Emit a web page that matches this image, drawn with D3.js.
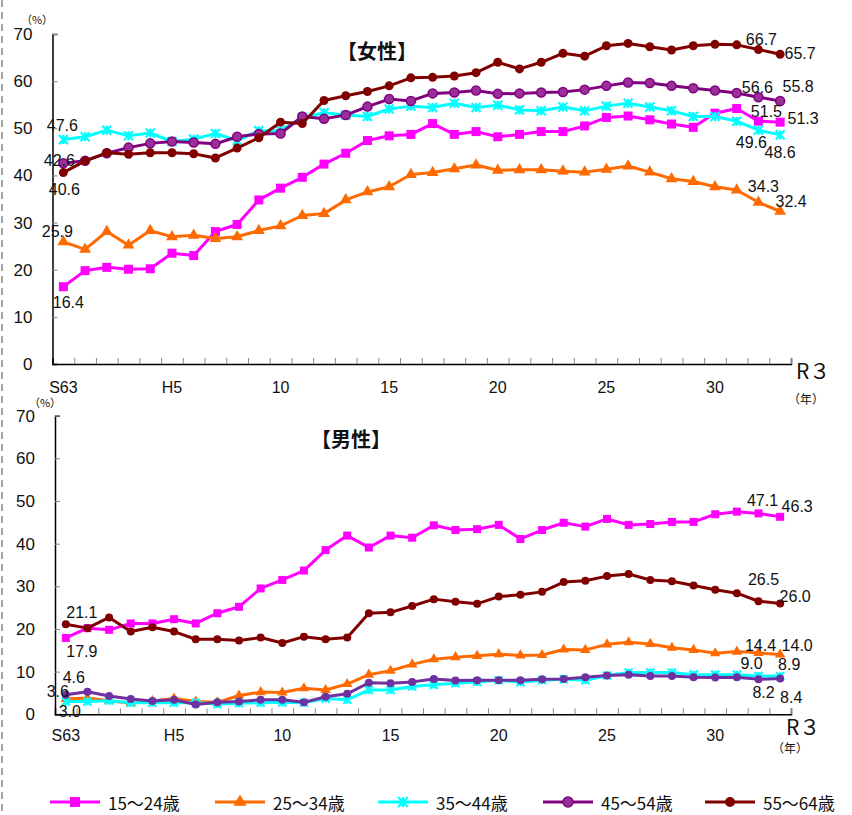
<!DOCTYPE html>
<html><head><meta charset="utf-8">
<script src="https://cdn.jsdelivr.net/npm/d3@7"></script>
<style>
html,body{margin:0;padding:0;background:#fff;}
svg{display:block;}
text{font-family:"Liberation Sans",Arial,sans-serif;fill:#111;}
.jp{font-family:"Noto Sans CJK JP","Noto Sans",sans-serif;}
</style></head>
<body>
<svg id="c" width="852" height="815"></svg>
<script>
// ---------------- data ----------------
const years = d3.range(34); // S63(1988) ... R3(2021)
const xTickIdx = [0, 5, 10, 15, 20, 25, 30];
const xTickLabels = ["S63", "H5", "10", "15", "20", "25", "30"];
const yTicks = [0, 10, 20, 30, 40, 50, 60, 70];
const seriesNames = ["15～24歳", "25～34歳", "35～44歳", "45～54歳", "55～64歳"];

const female15_24 = [16.4,19.8,20.5,20.1,20.2,23.5,23.0,28.1,29.6,34.8,37.3,39.6,42.4,44.7,47.4,48.4,48.7,51.0,48.7,49.3,48.2,48.7,49.3,49.3,50.5,52.3,52.6,51.8,50.9,50.2,53.2,54.2,51.5,51.3];
const female25_34 = [25.9,24.3,28.1,25.2,28.3,27.0,27.3,26.6,27.0,28.3,29.3,31.5,31.9,34.8,36.5,37.6,40.2,40.6,41.4,42.2,41.1,41.2,41.2,40.9,40.7,41.3,42.0,40.7,39.3,38.7,37.6,36.9,34.3,32.4];
const female35_44 = [47.6,48.2,49.6,48.4,49.0,47.2,47.7,48.9,47.4,49.5,49.5,52.3,53.3,52.8,52.5,54.1,54.7,54.4,55.3,54.4,54.9,53.9,53.7,54.5,53.7,54.7,55.3,54.5,53.7,52.5,52.5,51.5,49.6,48.6];
const female45_54 = [42.6,43.1,44.7,45.9,46.8,47.2,47.0,46.7,48.2,48.8,48.9,52.5,52.0,52.8,54.6,56.2,55.8,57.4,57.6,58.0,57.3,57.4,57.6,57.7,58.2,59.0,59.7,59.6,59.0,58.5,58.0,57.5,56.6,55.8];
const female55_64 = [40.6,43.1,44.8,44.5,44.8,44.8,44.6,43.7,45.8,48.0,51.3,51.0,55.9,56.9,57.8,59.0,60.7,60.8,61.1,61.8,64.0,62.6,64.0,65.9,65.3,67.5,68.0,67.3,66.6,67.5,67.8,67.7,66.7,65.7];

const male15_24 = [17.9,20.2,19.8,21.3,21.3,22.3,21.3,23.7,25.2,29.5,31.5,33.7,38.5,41.9,39.1,41.9,41.4,44.3,43.2,43.4,44.4,41.1,43.2,44.9,44.0,45.8,44.4,44.6,45.1,45.1,46.9,47.5,47.1,46.3];
const male25_34 = [3.6,3.8,3.2,2.6,3.1,3.7,3.0,2.8,4.4,5.2,5.1,6.1,5.7,7.1,9.3,10.2,11.7,12.9,13.4,13.7,14.1,13.8,13.9,15.2,15.1,16.4,16.9,16.5,15.6,15.1,14.3,14.7,14.4,14.0];
const male35_44 = [3.0,3.0,3.2,2.7,2.7,2.7,2.7,2.4,2.6,2.7,2.8,2.7,3.7,3.4,5.7,5.7,6.5,6.9,7.3,7.6,8.0,7.5,8.0,8.2,8.0,9.1,9.8,9.8,9.8,9.3,9.3,9.3,9.0,8.9];
const male45_54 = [4.6,5.3,4.3,3.6,3.1,3.4,2.3,2.8,3.0,3.4,3.4,2.8,4.1,4.8,7.4,7.3,7.6,8.3,7.9,8.0,8.0,8.0,8.2,8.3,8.7,9.1,9.3,9.0,9.0,8.7,8.6,8.7,8.2,8.4];
const male55_64 = [21.1,20.2,22.7,19.4,20.4,19.4,17.6,17.6,17.3,18.0,16.7,18.2,17.6,18.0,23.7,23.9,25.4,27.0,26.4,25.9,27.6,28.0,28.7,31.0,31.3,32.4,32.9,31.5,31.2,30.2,29.2,28.4,26.5,26.0];

// ---------------- styles ----------------
const styles = [
  {color:"#FF00FF", marker:"square"},
  {color:"#FF6A00", marker:"triangle"},
  {color:"#00FFFF", marker:"cross"},
  {color:"#800080", marker:"circle", fill:"#9A2F9A"},
  {color:"#800000", marker:"circle"}
];

// value label annotations: [series index, point index, dx, dy]
const femaleLabels = [
  [2,0,-1,-14],[3,0,-4,-3],[4,0,1,17],[1,0,-6,-10],[0,0,5,16],
  [4,32,3,-10],[4,33,20,-1],[3,32,-1,-10],[3,33,18,-14],
  [0,32,8,-10],[0,33,23,-4],[2,32,-7,12],[2,33,0,18],
  [1,32,5,-16],[1,33,11,-10]
];
const maleLabels = [
  [4,0,16,-12],[0,0,16,14],[3,0,8,-17],[1,0,-8,-7],[2,0,4,10],
  [0,32,4,-13],[0,33,17,-10],[4,32,5,-22],[4,33,15,-7],
  [1,32,2,-7],[1,33,17,-9],[2,32,-7,-12],[2,33,9,-12],
  [3,32,5,13],[3,33,11,19]
];

const svg = d3.select("#c");

// dashed left border
svg.append("line").attr("x1",2).attr("x2",2).attr("y1",0).attr("y2",815)
  .attr("stroke","#888").attr("stroke-width",1.5).attr("stroke-dasharray","7,5");

function drawMarker(g, type, cx, cy, size, color, fill) {
  if (type === "square") {
    g.append("rect").attr("x",cx-size/2).attr("y",cy-size/2).attr("width",size).attr("height",size)
      .attr("fill",color);
  } else if (type === "triangle") {
    const sym = d3.symbol().type(d3.symbolTriangle).size(size*size*0.75);
    g.append("path").attr("d",sym()).attr("transform",`translate(${cx},${cy})`).attr("fill",color);
  } else if (type === "cross") {
    const h = size/2;
    g.append("path").attr("d",`M${cx-h},${cy-h}L${cx+h},${cy+h}M${cx-h},${cy+h}L${cx+h},${cy-h}M${cx},${cy-h}L${cx},${cy+h}`)
      .attr("stroke",color).attr("stroke-width",2.2);
  } else {
    g.append("circle").attr("cx",cx).attr("cy",cy).attr("r",size/2)
      .attr("fill",fill||color).attr("stroke",color).attr("stroke-width",fill?1.5:0);
  }
}

function panel(opts) {
  const {x0,x1,yTop,yBottom,data,title,titleX,titleY,labels,markerSize,pctY,pctX,r3Y,r3X,nenX,nenY,xLabelY,styleOverride} = opts;
  const g = svg.append("g");
  const xb = d3.scaleBand().domain(years).range([x0,x1]).paddingInner(0).paddingOuter(0);
  const xc = i => xb(i) + xb.bandwidth()/2;
  const y = d3.scaleLinear().domain([0,70]).range([yBottom,yTop]);

  // y axis
  const yAxis = g.append("g").attr("transform",`translate(${x0},0)`)
    .call(d3.axisLeft(y).tickValues(yTicks).tickSize(-5).tickPadding(20).tickFormat(d3.format("d")));
  yAxis.select(".domain").attr("stroke","#000").attr("stroke-width",1.5);
  yAxis.selectAll(".tick line").attr("stroke","#888").attr("stroke-width",1);
  yAxis.selectAll(".tick text").attr("font-size",17).attr("font-family","Liberation Sans, Arial, sans-serif").attr("fill","#111");

  // x axis line + ticks at band boundaries
  const bounds = d3.range(1,35).map(i => x0 + i*xb.bandwidth());
  const xAxis = g.append("g").attr("transform",`translate(0,${yBottom})`)
    .call(d3.axisBottom(d3.scaleLinear().domain([x0,x1]).range([x0,x1])).tickValues(bounds).tickSize(-6).tickFormat(""));
  xAxis.select(".domain").attr("stroke","#000").attr("stroke-width",1.5);
  xAxis.selectAll(".tick line").attr("stroke","#888").attr("stroke-width",1);

  // x labels
  g.selectAll(".xl").data(xTickIdx).enter().append("text")
    .attr("x",i=>xc(i)).attr("y",xLabelY).attr("text-anchor","middle").attr("dominant-baseline","central")
    .attr("font-size",16).text((d,k)=>xTickLabels[k]);
  g.append("text").attr("class","jp").attr("x",r3X).attr("y",r3Y).attr("dominant-baseline","central")
    .attr("font-size",21).text("R３");
  g.append("text").attr("class","jp").attr("x",nenX).attr("y",nenY).attr("text-anchor","middle").attr("dominant-baseline","central")
    .attr("font-size",12).text("（年）");
  g.append("text").attr("class","jp").attr("x",pctX).attr("y",pctY).attr("text-anchor","middle").attr("dominant-baseline","central")
    .attr("font-size",11).text("（%）");

  // title
  g.append("text").attr("class","jp").attr("x",titleX).attr("y",titleY).attr("text-anchor","middle")
    .attr("dominant-baseline","central").attr("font-size",20).attr("font-weight","bold").text(title);

  // series
  const line = d3.line().x((d,i)=>xc(i)).y(d=>y(d));
  data.forEach((vals, s) => {
    const st = Object.assign({}, styles[s], (styleOverride||{})[s]||{});
    g.append("path").datum(vals).attr("d",line).attr("fill","none")
      .attr("stroke",st.color).attr("stroke-width",3).attr("stroke-linejoin","round");
    const mg = g.append("g");
    vals.forEach((v,i) => drawMarker(mg, st.marker, xc(i), y(v), markerSize, st.color, st.fill));
  });

  // value labels
  labels.forEach(([s,i,dx,dy]) => {
    g.append("text").attr("x",xc(i)+dx).attr("y",y(data[s][i])+dy)
      .attr("text-anchor","middle").attr("dominant-baseline","central")
      .attr("font-size",16).attr("fill","#111").text(data[s][i].toFixed(1));
  });
}

panel({
  x0:52.5, x1:791, yTop:34, yBottom:364,
  data:[female15_24,female25_34,female35_44,female45_54,female55_64],
  title:"【女性】", titleX:377, titleY:50, labels:femaleLabels, markerSize:9,
  pctX:37, pctY:19, r3X:796, r3Y:370, nenX:806, nenY:398, xLabelY:387
});
panel({
  x0:55, x1:791, yTop:415.7, yBottom:714.3,
  data:[male15_24,male25_34,male35_44,male45_54,male55_64],
  title:"【男性】", titleX:351, titleY:438, labels:maleLabels, markerSize:8,
  pctX:45, pctY:402, r3X:786, r3Y:726, nenX:790, nenY:747, xLabelY:735,
  styleOverride:{3:{color:"#7030A0", fill:null, marker:"circle"}}
});

// legend
const legendX = [50, 215, 378, 543, 705];
const lg = svg.append("g");
seriesNames.forEach((name, s) => {
  const st = styles[s];
  const lx = legendX[s], ly = 802;
  lg.append("line").attr("x1",lx).attr("x2",lx+50).attr("y1",ly).attr("y2",ly)
    .attr("stroke",st.color).attr("stroke-width",3);
  drawMarker(lg, st.marker, lx+25, ly, 10, st.color, st.fill);
  lg.append("text").attr("class","jp").attr("x",lx+58).attr("y",ly).attr("dominant-baseline","central")
    .attr("font-size",17).text(name);
});
</script>
</body></html>
